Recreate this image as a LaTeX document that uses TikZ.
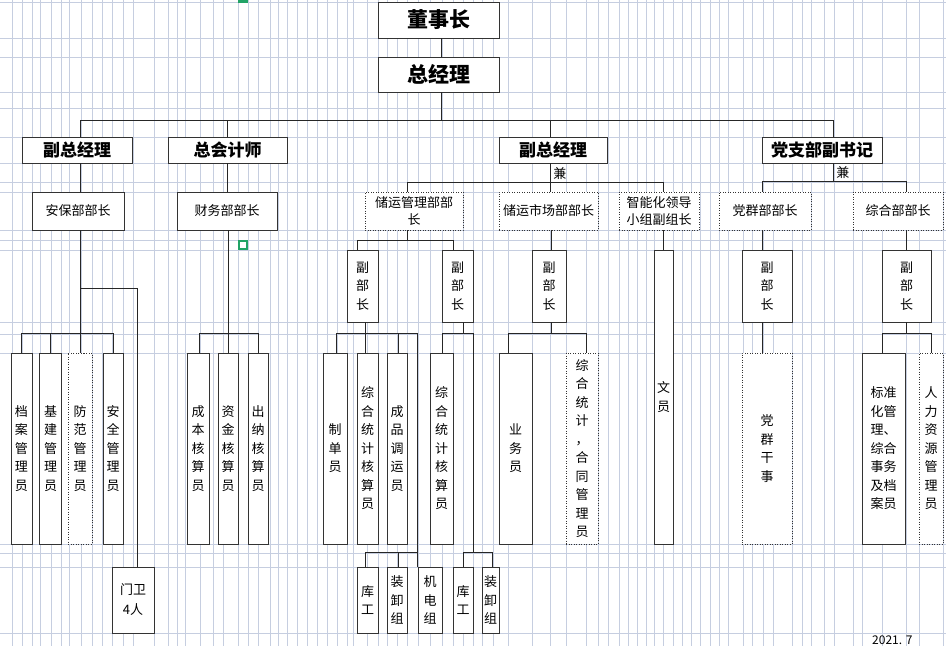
\documentclass[tikz,border=0pt]{standalone}
\usepackage{fontspec}
\setmainfont{Noto Sans CJK SC}
\definecolor{gridblue}{RGB}{198,206,224}
\definecolor{selgreen}{RGB}{33,163,102}
\tikzset{
  box/.style={draw=black!80, fill=white, line width=0.8pt, inner sep=0pt, align=center, font=\fontsize{13}{17}\selectfont},
  dbox/.style={box, dash pattern=on 1pt off 1.5pt},
  head/.style={box, font=\fontsize{17}{20}\selectfont\bfseries},
  top/.style={box, font=\fontsize{21}{24}\selectfont\bfseries},
  col/.style={font=\fontsize{13}{18.5}\selectfont},
  link/.style={draw=black!85, line width=0.8pt},
  gridline/.style={draw=gridblue, line width=0.8pt}
}
\begin{document}
\begin{tikzpicture}[x=1pt, y=-1pt]
    \useasboundingbox (0,0) rectangle (946,646);
    \clip (0,0) rectangle (946,646);
    \fill[white] (0,0) rectangle (946,646);

    % 表格の罫線
    \foreach \gx in {12,22,32,40,51,61,69,81,92,102,112,123,133,154,168,177,185,200,213,223,238,248,258,270,278,287,297,307,317,327,337,347,353,367,378,387,397,407,418,430,442,453,463,473,482,493,508,532,550,566,586,598,608,619,628,637,646,654,663,673,682,691,700,710,719,728,743,752,763,773,792,802,811,824,834,853,862,882,906,919,943}
        \draw[gridline] (\gx,0) -- (\gx,646);
    \foreach \gy in {2,38,57,92,108,137,163,182,192,230,240,250,322,334,353,544,553,567,633}
        \draw[gridline] (0,\gy) -- (946,\gy);
    \fill[selgreen] (238,0) rectangle (248,2.5);
    \draw[selgreen, line width=2.5pt] (239,241) rectangle (247,249);

    \node[top, minimum width=121pt, minimum height=36pt] (dsz) at (438.5,20) {董事长};
    \node[top, minimum width=121pt, minimum height=35pt] (zjl) at (438.5,74.5) {总经理};

    \node[head, minimum width=110pt, minimum height=26pt] (fzjl1) at (77,150) {副总经理};
    \node[head, minimum width=119pt, minimum height=26pt] (zkjs) at (227.5,150) {总会计师};
    \node[head, minimum width=108pt, minimum height=26pt] (fzjl2) at (553,150) {副总经理};
    \node[head, minimum width=120pt, minimum height=26pt] (dzb) at (822,150) {党支部副书记};

    \node[box, minimum width=92pt, minimum height=38pt] (abb) at (78,211) {安保部部长};
    \node[box, minimum width=100pt, minimum height=38pt] (cwb) at (227,211) {财务部部长};
    \node[dbox, minimum width=98pt, minimum height=38pt] (cyg) at (414,211) {储运管理部部\\长};
    \node[dbox, minimum width=99pt, minimum height=38pt] (cys) at (548.5,211) {储运市场部部长};
    \node[dbox, minimum width=80pt, minimum height=38pt] (znh) at (659,211) {智能化领导\\小组副组长};
    \node[dbox, minimum width=92pt, minimum height=38pt] (dqb) at (765,211) {党群部部长};
    \node[dbox, minimum width=90pt, minimum height=38pt] (zhb) at (898,211) {综合部部长};

    \node[box, col, minimum width=31pt, minimum height=72pt] (fb1) at (362.5,286) {副\\部\\长};
    \node[box, col, minimum width=31pt, minimum height=72pt] (fb2) at (457.5,286) {副\\部\\长};
    \node[box, col, minimum width=34pt, minimum height=72pt] (fb3) at (549,286) {副\\部\\长};
    \node[box, col, minimum width=19pt, minimum height=294pt] (wy) at (663.5,397) {文\\员};
    \node[box, col, minimum width=50pt, minimum height=72pt] (fb4) at (767,286) {副\\部\\长};
    \node[box, col, minimum width=49pt, minimum height=72pt] (fb5) at (906.5,286) {副\\部\\长};

    \node[box, col, minimum width=21pt, minimum height=191pt] (da) at (21.5,448.5) {档\\案\\管\\理\\员};
    \node[box, col, minimum width=22pt, minimum height=191pt] (jj) at (50.5,448.5) {基\\建\\管\\理\\员};
    \node[dbox, col, minimum width=24pt, minimum height=191pt] (ff) at (80,448.5) {防\\范\\管\\理\\员};
    \node[box, col, minimum width=20pt, minimum height=191pt] (aq) at (113,448.5) {安\\全\\管\\理\\员};
    \node[box, col, minimum width=22pt, minimum height=191pt] (cb) at (198,448.5) {成\\本\\核\\算\\员};
    \node[box, col, minimum width=20pt, minimum height=191pt] (zj) at (228,448.5) {资\\金\\核\\算\\员};
    \node[box, col, minimum width=20pt, minimum height=191pt] (cn) at (258,448.5) {出\\纳\\核\\算\\员};
    \node[box, col, minimum width=24pt, minimum height=191pt] (zd) at (335,448.5) {制\\单\\员};
    \node[box, col, minimum width=21pt, minimum height=191pt] (zh1) at (367.5,448.5) {综\\合\\统\\计\\核\\算\\员};
    \node[box, col, minimum width=20pt, minimum height=191pt] (cp) at (397,448.5) {成\\品\\调\\运\\员};
    \node[box, col, minimum width=23pt, minimum height=191pt] (zh2) at (441.5,448.5) {综\\合\\统\\计\\核\\算\\员};
    \node[box, col, minimum width=33pt, minimum height=191pt] (yw) at (515.5,448.5) {业\\务\\员};
    \node[dbox, col, minimum width=32pt, minimum height=191pt] (ht) at (582,448.5) {综\\合\\统\\计\\，\\合\\同\\管\\理\\员};
    \node[dbox, col, minimum width=50pt, minimum height=191pt] (dq) at (767,448.5) {党\\群\\干\\事};
    \node[box, col, minimum width=43pt, minimum height=191pt] (bz) at (883.5,448.5) {标准\\化管\\理、\\综合\\事务\\及档\\案员};
    \node[dbox, col, minimum width=24pt, minimum height=191pt] (rl) at (931,448.5) {人\\力\\资\\源\\管\\理\\员};

    \node[box, font=\fontsize{13}{20}\selectfont, minimum width=42pt, minimum height=66pt] (mw) at (133,600) {门卫\\4人};
    \node[box, col, minimum width=21pt, minimum height=66pt] (kg1) at (367.5,600) {库\\工};
    \node[box, col, minimum width=20pt, minimum height=66pt] (zx1) at (397,600) {装\\卸\\组};
    \node[box, col, minimum width=24pt, minimum height=66pt] (jd) at (430,600) {机\\电\\组};
    \node[box, col, minimum width=20pt, minimum height=66pt] (kg2) at (463,600) {库\\工};
    \node[box, col, minimum width=17pt, minimum height=66pt] (zx2) at (490.5,600) {装\\卸\\组};

    \node[font=\fontsize{12}{14}\selectfont, anchor=base west, inner sep=0pt] (date) at (872,644.5) {2021. 7};

    \draw[link] ([xshift=3pt]dsz.south) -- ([xshift=3pt]zjl.north);
    \draw[link] ([xshift=3pt]zjl.south) -- ++(0,29);
    \draw[link] ([xshift=3pt]fzjl1.north) -- ++(0,-16) -| ([xshift=11pt]dzb.north);
    \draw[link] (zkjs.north) -- ++(0,-16);
    \draw[link] ([xshift=-3pt]fzjl2.north) -- ++(0,-16);

    % 安保部
    \draw[link] ([xshift=3pt]fzjl1.south) -- ([xshift=2pt]abb.north);
    \draw[link] ([xshift=2pt]abb.south) -- ++(0,104);
    \draw[link] (da.north) -- ++(0,-19) -| (aq.north);
    \draw[link] (jj.north) -- ++(0,-19);
    \draw[link] (ff.north) -- ++(0,-19);
    \draw[link] ([xshift=4pt]mw.north) -- ++(0,-278) -- ++(-57,0);

    % 财务部
    \draw[link] (zkjs.south) -- ([xshift=0.5pt]cwb.north);
    \draw[link] ([xshift=1pt]cwb.south) -- ++(0,104);
    \draw[link] ([xshift=1pt]cb.north) -- ++(0,-19) -| (cn.north);
    \draw[link] (zj.north) -- ++(0,-19);

    % 储运
    \draw[link] ([xshift=-3pt]fzjl2.south) -- ++(0,20) node[midway, right, inner sep=3pt, font=\fontsize{13}{15}\selectfont] (jian1) {兼};
    \draw[link] ([xshift=-7pt]cyg.north) -- ++(0,-9) -| ([xshift=4pt]znh.north);
    \draw[link] ([xshift=1.5pt]cys.north) -- ++(0,-9);
    \draw[link] ([xshift=-7pt]cyg.south) -- ++(0,11);
    \draw[link] ([xshift=-5.5pt]fb1.north) -- ++(0,-9) -| ([xshift=-4.5pt]fb2.north);
    \draw[link] ([xshift=2.5pt]fb1.south) -- ++(0,12);
    \draw[link] ([xshift=1pt]zd.north) -- ++(0,-19) -| (jd.north west);
    \draw[link] ([xshift=-2.5pt]zh1.north) -- ++(0,-19);
    \draw[link] ([xshift=1pt]cp.north) -- ++(0,-19);
    \draw[link] ([xshift=-2.5pt]kg1.north) -- ++(0,-14) -- ++(53,0);
    \draw[link] ([xshift=1pt]zx1.north) -- ++(0,-14);
    \draw[link] ([xshift=5.5pt]fb2.south) -- ++(0,12);
    \draw[link] ([xshift=0.5pt]zh2.north) -- ++(0,-19) -| ([yshift=14pt]kg2.north east);
    \draw[link] (kg2.north) -- ++(0,-14) -| ([xshift=1.5pt]zx2.north);
    \draw[link] ([xshift=2.5pt]cys.south) -- ([xshift=2pt]fb3.north);
    \draw[link] ([xshift=2pt]fb3.south) -- ++(0,12);
    \draw[link] ([xshift=-7.5pt]yw.north) -- ++(0,-19) -| ([xshift=4pt]ht.north);
    \draw[link] ([xshift=4pt]znh.south) -- ([xshift=-0.5pt]wy.north);

    % 党支部
    \draw[link] ([xshift=11pt]dzb.south) -- ++(0,19) node[midway, right, inner sep=3pt, font=\fontsize{13}{15}\selectfont] (jian2) {兼};
    \draw[link] ([xshift=-3pt]dqb.north) -- ++(0,-10) -| ([xshift=8pt]zhb.north);
    \draw[link] ([xshift=-3pt]dqb.south) -- ([xshift=-5pt]fb4.north);
    \draw[link] ([xshift=-5pt]fb4.south) -- ([xshift=-5pt]dq.north);
    \draw[link] ([xshift=8pt]zhb.south) -- ([xshift=-0.5pt]fb5.north);
    \draw[link] ([xshift=-0.5pt]fb5.south) -- ++(0,12);
    \draw[link] ([xshift=-1.5pt]bz.north) -- ++(0,-19) -| (rl.north);

  \end{tikzpicture}
\end{document}
